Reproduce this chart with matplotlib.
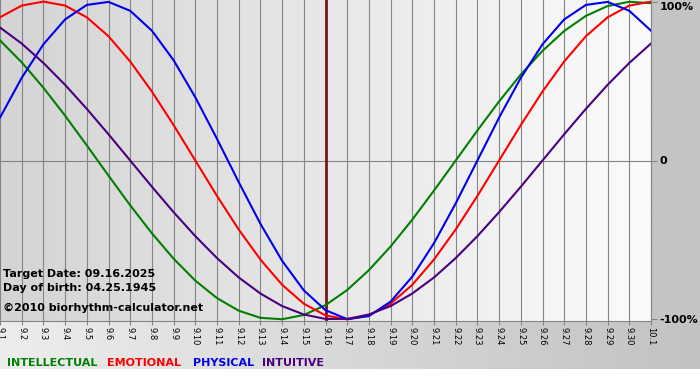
import numpy as np
import matplotlib.pyplot as plt
from matplotlib.colors import LinearSegmentedColormap
from matplotlib.patches import Rectangle

days = ['9.1', '9.2', '9.3', '9.4', '9.5', '9.6', '9.7', '9.8', '9.9', '9.10',
        '9.11', '9.12', '9.13', '9.14', '9.15', '9.16', '9.17', '9.18', '9.19', '9.20',
        '9.21', '9.22', '9.23', '9.24', '9.25', '9.26', '9.27', '9.28', '9.29', '9.30', '10.1']

intellectual = [0.756, 0.618, 0.458, 0.282, 0.095, -0.095, -0.282, -0.458, -0.618, -0.756,
                -0.866, -0.945, -0.990, -0.999, -0.972, -0.910, -0.815, -0.690, -0.541, -0.372,
                -0.189, 0.000, 0.189, 0.372, 0.541, 0.690, 0.815, 0.910, 0.972, 0.999, 0.990]
emotional = [0.901, 0.975, 1.000, 0.975, 0.901, 0.782, 0.623, 0.434, 0.223, 0.000,
             -0.223, -0.434, -0.623, -0.782, -0.901, -0.975, -1.000, -0.975, -0.901, -0.782,
             -0.623, -0.434, -0.223, 0.000, 0.223, 0.434, 0.623, 0.782, 0.901, 0.975, 1.000]
physical = [0.270, 0.520, 0.731, 0.888, 0.979, 0.998, 0.942, 0.817, 0.631, 0.398,
            0.136, -0.136, -0.398, -0.631, -0.817, -0.942, -0.998, -0.979, -0.888, -0.731,
            -0.520, -0.270, 0.000, 0.270, 0.520, 0.731, 0.888, 0.979, 0.998, 0.942, 0.817]
intuitive = [0.837, 0.736, 0.614, 0.476, 0.325, 0.165, 0.000, -0.165, -0.325, -0.476,
             -0.614, -0.736, -0.837, -0.916, -0.969, -0.997, -0.997, -0.969, -0.916, -0.837,
             -0.736, -0.614, -0.476, -0.325, -0.165, 0.000, 0.165, 0.325, 0.476, 0.614, 0.736]

series = [('INTELLECTUAL', intellectual, '#008000'),
          ('EMOTIONAL', emotional, '#ff0000'),
          ('PHYSICAL', physical, '#0000ee'),
          ('INTUITIVE', intuitive, '#4b0082')]
target_day = '9.16'

fig = plt.figure(figsize=(7, 3.8), dpi=100)
fig.patch.set_facecolor('white')

# background, pixel coords
bax = fig.add_axes([0, 0, 1, 1], zorder=0)
bax.set_xlim(0, 700)
bax.set_ylim(380, 0)
bax.axis('off')
grad = np.linspace(0, 1, 256).reshape(1, -1)
bax.imshow(grad, cmap=LinearSegmentedColormap.from_list('b', ['#ededed', '#c2c2c2']),
           extent=[0, 700, 369, 321], aspect='auto')
bax.add_patch(Rectangle((651, 0), 49, 321, color='#c4c4c4', lw=0))

ax = fig.add_axes([0, 1 - 321 / 380, 651 / 700, 321 / 380], zorder=1)
ax.patch.set_alpha(0)
x = np.arange(len(days))
ax.set_xlim(0, len(days) - 1)
ax.set_ylim(-1.01, 1.01)
ax.imshow(grad, cmap=LinearSegmentedColormap.from_list('p', ['#d4d4d4', '#fbfbfb']),
          extent=[0, len(days) - 1, -1.01, 1.01], aspect='auto', zorder=0)

for xi in x:
    ax.axvline(xi, color='#858585', lw=0.8, zorder=1)
ax.axhline(0, color='#858585', lw=0.8, zorder=1)
ax.axvline(days.index(target_day), color='#7a1515', lw=2, zorder=2)

for name, vals, col in series:
    ax.plot(x, vals, color=col, lw=1.5, zorder=3, solid_joinstyle='round')

for s in ['top', 'left']:
    ax.spines[s].set_visible(False)
for s in ['bottom', 'right']:
    ax.spines[s].set_color('#858585')
ax.set_xticks(x)
ax.set_xticklabels(days, rotation=-90, fontsize=6)
ax.tick_params(axis='x', length=3, color='#858585', pad=1.5)
ax.yaxis.tick_right()
ax.set_yticks([-1, 0, 1])
ax.set_yticklabels(['-100%', '0', '100%'], fontsize=8, fontweight='bold')
ax.tick_params(axis='y', length=4, color='#858585', pad=2)
ax.get_yticklabels()[2].set_va('top')

info = ['Target Date: 09.16.2025', 'Day of birth: 04.25.1945', '\u00a92010 biorhythm-calculator.net']
for txt, yb in zip(info, [277, 291, 311]):
    ax.text(3, yb, txt, transform=bax.transData, fontsize=8, fontweight='bold',
            va='baseline', zorder=5)

for (name, vals, col), xp in zip(series, [7, 107, 193, 262]):
    ax.text(xp, 366, name, transform=bax.transData, fontsize=8, fontweight='bold',
            color=col, va='baseline', zorder=5, clip_on=False)

fig.savefig('out.png', dpi=100)
